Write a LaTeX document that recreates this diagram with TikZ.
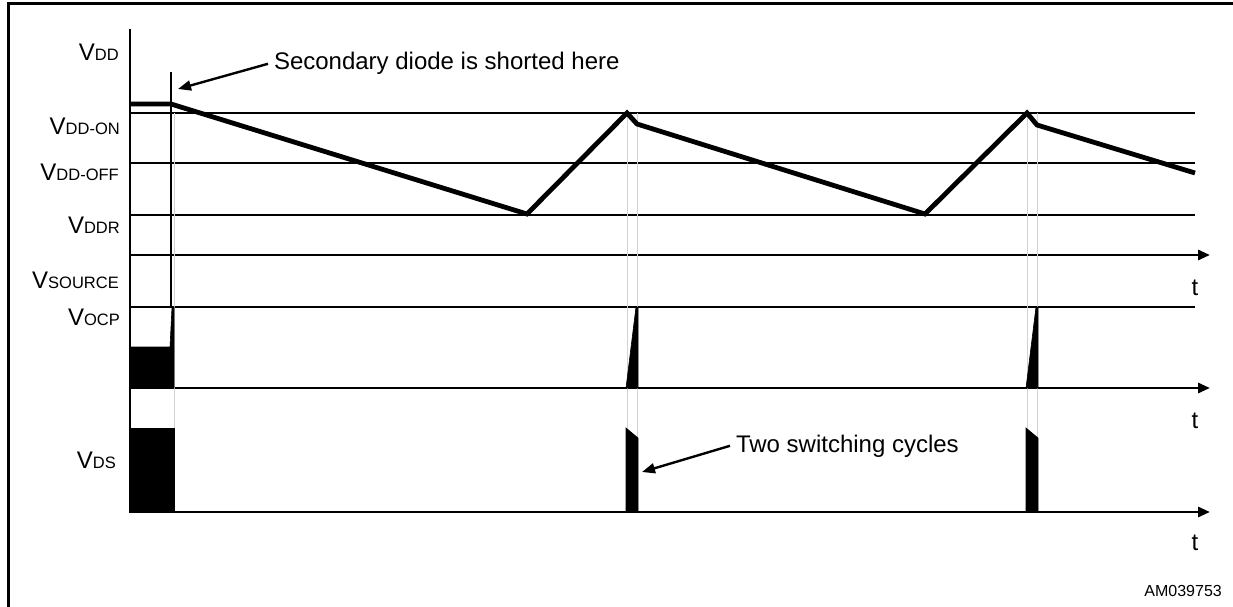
\documentclass[tikz,border=0pt]{standalone}
\usepackage{fontspec}
\setmainfont{Liberation Sans}
\usetikzlibrary{arrows.meta}

\newcommand{\vsub}[1]{V{\fontsize{16.5}{17}\selectfont #1}}

\begin{document}
\begin{tikzpicture}[x=1pt,y=-1pt]

\tikzset{frame/.style={line width=3pt},
         level/.style={line width=2.4pt},
         axis/.style={line width=2.8pt,-{Triangle[length=12pt,width=10pt]}},
         wave/.style={line width=4.8pt,line join=miter},
         guide/.style={gray!35,line width=0.7pt},
         pulse/.style={fill=black,draw=black,line width=0.6pt},
         note/.style={line width=2.4pt,-{Triangle[length=13pt,width=10pt]}},
         lab/.style={font=\fontsize{24}{26}\selectfont,anchor=base east,inner sep=0pt},
         tlab/.style={font=\fontsize{24}{26}\selectfont,anchor=base,inner sep=0pt},
         txt/.style={font=\fontsize{24}{26}\selectfont,anchor=base west,inner sep=0pt,outer sep=6pt}}

\useasboundingbox (0,0) rectangle (1233,607);

% frame
\draw[frame] (8,607) -- (8,4) -- (1233,4);

% labels
\node[lab] (vdd) at (119,61) {\vsub{DD}};
\node[lab] (vddon) at (120,135) {\vsub{DD-ON}};
\node[lab] (vddoff) at (119,180) {\vsub{DD-OFF}};
\node[lab] (vddr) at (120,233) {\vsub{DDR}};
\node[lab] (vsrc) at (119,288) {\vsub{SOURCE}};
\node[lab] (vocp) at (120,325) {\vsub{OCP}};
\node[lab] (vds) at (116,468) {\vsub{DS}};
\node[tlab] (t1) at (1195,295) {t};
\node[tlab] (t2) at (1195,428) {t};
\node[tlab] (t3) at (1195,550) {t};
\node[anchor=base east,inner sep=0pt,font=\fontsize{16}{17}\selectfont] (code) at (1222,596) {AM039753};

% axes and levels
\coordinate (top) at (130,29);
\coordinate (bot) at (130,513);
\draw[frame,line width=2.6pt] (top) -- (bot);
\draw[level] (130,113) -- (1195,113);
\draw[level] (130,163) -- (1195,163);
\draw[level] (130,215) -- (1195,215);
\draw[level] (130,307) -- (1195,307);
\draw[axis] (130,255) -- (1210,255);
\draw[axis] (130,388) -- (1210,388);
\draw[axis] (130,512) -- (1210,512);

% guides
\foreach \gx in {174,627,637,1027,1037}
  \draw[guide] (\gx,113) -- (\gx,512);
\draw[level] (171,72) -- (171,307);

% supply waveform
\coordinate (w0) at (130,104);
\coordinate (w1) at (171,104);
\coordinate (w2) at (527,214);
\coordinate (w3) at (627,113);
\coordinate (w4) at (637,124);
\coordinate (w5) at (925,214);
\coordinate (w6) at (1027,113);
\coordinate (w7) at (1037,125);
\coordinate (w8) at (1195,173);
\draw[wave] (w0) -- (w1) -- (w2) -- (w3) -- (w4) -- (w5) -- (w6) -- (w7) -- (w8);

% source pulses
\fill[pulse] (130,347) -- (170,347) -- (172,307) -- (174,307) -- (174,388) -- (130,388) -- cycle;
\fill[pulse] (626,388) -- (636,307) -- (638,307) -- (638,388) -- cycle;
\fill[pulse] (1026,388) -- (1036,307) -- (1038,307) -- (1038,388) -- cycle;

% drain pulses
\fill[pulse] (130,428) rectangle (174,512);
\fill[pulse] (626,428) -- (638,438) -- (638,512) -- (626,512) -- cycle;
\fill[pulse] (1026,428) -- (1038,438) -- (1038,512) -- (1026,512) -- cycle;

% notes
\node[txt] (short) at (268,70) {Secondary diode is shorted here};
\coordinate (shorttip) at (178,89);
\draw[note] (short.west) -- (shorttip);
\node[txt] (cycles) at (730,452) {Two switching cycles};
\coordinate (cyclestip) at (642,472);
\draw[note] (cycles.west) -- (cyclestip);

\end{tikzpicture}
\end{document}
